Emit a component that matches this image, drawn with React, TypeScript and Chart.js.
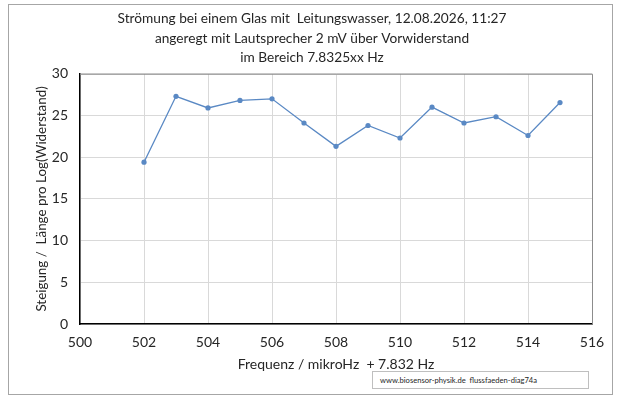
import React, { useEffect, useRef } from 'react';
import { Chart, registerables } from 'chart.js';

Chart.register(...registerables);

// Data
const frequencies = [502, 503, 504, 505, 506, 507, 508, 509, 510, 511, 512, 513, 514, 515];
const slopes = [19.4, 27.3, 25.9, 26.8, 27.0, 24.1, 21.3, 23.8, 22.3, 26.0, 24.1, 24.85, 22.6, 26.55];

const titleLines = [
  'Strömung bei einem Glas mit  Leitungswasser, 12.08.2026, 11:27',
  'angeregt mit Lautsprecher 2 mV über Vorwiderstand',
  'im Bereich 7.8325xx Hz',
];
const xTitle = 'Frequenz / mikroHz  + 7.832 Hz';
const yTitle = 'Steigung /  Länge pro Log(Widerstand)';
const watermark = 'www.biosensor-physik.de  flussfaeden-diag74a';

const FONT = "Lato, 'Open Sans', sans-serif";

// Gray frame on top and right of the plot area
const plotFrame = {
  id: 'plotFrame',
  afterDraw(chart: Chart) {
    const { ctx, chartArea } = chart;
    ctx.save();
    ctx.strokeStyle = '#8c8c8c';
    ctx.lineWidth = 1;
    ctx.beginPath();
    ctx.moveTo(chartArea.left, chartArea.top + 0.5);
    ctx.lineTo(chartArea.right + 0.5, chartArea.top + 0.5);
    ctx.lineTo(chartArea.right + 0.5, chartArea.bottom);
    ctx.stroke();
    ctx.restore();
  },
};

const App: React.FC = () => {
  const chartRef = useRef<HTMLCanvasElement>(null);
  const chartInstance = useRef<Chart | null>(null);

  useEffect(() => {
    if (!chartRef.current) return;
    const ctx = chartRef.current.getContext('2d');
    if (!ctx) return;

    chartInstance.current = new Chart(ctx, {
      type: 'line',
      data: {
        datasets: [
          {
            data: frequencies.map((f, i) => ({ x: f, y: slopes[i] })),
            borderColor: '#5a89c4',
            backgroundColor: '#5a89c4',
            borderWidth: 1.3,
            pointRadius: 2.6,
            pointBorderWidth: 0,
            tension: 0,
          },
        ],
      },
      options: {
        responsive: false,
        animation: false,
        layout: { padding: { left: 32, right: 29, top: 0, bottom: 0 } },
        plugins: {
          legend: { display: false },
          tooltip: { enabled: false },
          title: {
            display: true,
            text: titleLines,
            color: '#262626',
            font: { family: FONT, size: 13.7, weight: 'normal', lineHeight: 1.43 },
            padding: { top: 9, bottom: 6 },
          },
        },
        scales: {
          x: {
            type: 'linear',
            min: 500,
            max: 516,
            afterFit: (scale) => {
              scale.height = 81;
            },
            ticks: {
              stepSize: 2,
              padding: 10,
              color: '#262626',
              font: { family: FONT, size: 14 },
            },
            grid: { color: '#d9d9d9', drawTicks: false },
            border: { color: '#000000', width: 1.5 },
            title: {
              display: true,
              text: xTitle,
              color: '#262626',
              font: { family: FONT, size: 14 },
              padding: { top: 0, bottom: 32 },
            },
          },
          y: {
            min: 0,
            max: 30,
            afterFit: (scale) => {
              scale.width = 48;
            },
            ticks: {
              stepSize: 5,
              padding: 12,
              color: '#262626',
              font: { family: FONT, size: 14 },
            },
            grid: { color: '#d9d9d9', drawTicks: false },
            border: { color: '#000000', width: 1.5 },
            title: {
              display: true,
              text: yTitle,
              color: '#262626',
              font: { family: FONT, size: 13.4 },
              padding: { top: 2, bottom: 0 },
            },
          },
        },
      },
      plugins: [plotFrame],
    });

    return () => {
      if (chartInstance.current) {
        chartInstance.current.destroy();
        chartInstance.current = null;
      }
    };
  }, []);

  return (
    <div style={{ position: 'fixed', left: 0, top: 0, width: 621, height: 405, background: '#fff' }}>
      <div
        style={{
          position: 'absolute',
          left: 8,
          top: 4,
          width: 603,
          height: 389,
          border: '1px solid #a6a6a6',
        }}
      />
      <canvas ref={chartRef} width={621} height={405} style={{ position: 'absolute', left: 0, top: 0 }} />
      <div
        style={{
          position: 'absolute',
          left: 372,
          top: 371,
          width: 217,
          height: 18,
          border: '1px solid #bfbfbf',
          background: '#fff',
          fontFamily: FONT,
          fontSize: 7.6,
          lineHeight: '17px',
          color: '#262626',
          paddingLeft: 7,
          boxSizing: 'border-box',
          whiteSpace: 'pre',
        }}
      >
        {watermark}
      </div>
    </div>
  );
};

export default App;
